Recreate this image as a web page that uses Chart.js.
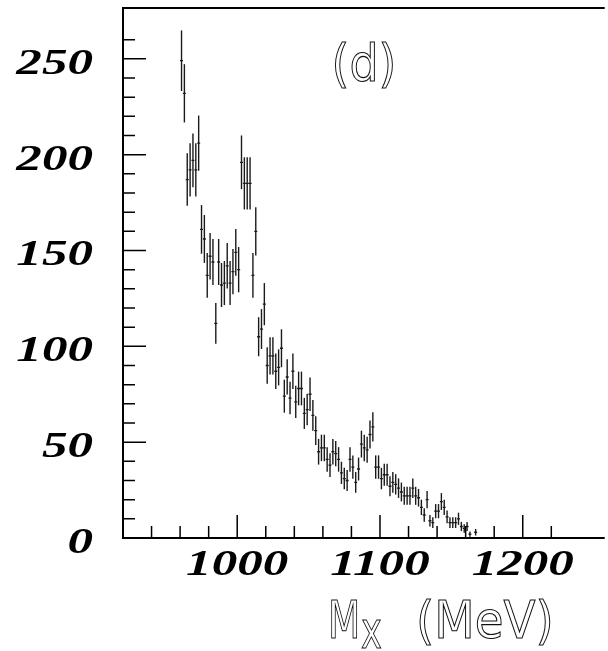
<!DOCTYPE html>
<html>
<head>
<meta charset="utf-8">
<script src="https://cdn.jsdelivr.net/npm/chart.js@4/dist/chart.umd.min.js"></script>
<style>
  html, body { margin: 0; padding: 0; background: #fff; }
  #wrap { width: 608px; height: 651px; position: relative; }
</style>
</head>
<body>
<div id="wrap"><canvas id="mxChart"></canvas></div>
<script>
// Missing-mass spectrum, 2 MeV bins
const binCenters = [
    961, 963, 965, 967, 969, 971, 973, 975, 977, 979,
    981, 983, 985, 987, 989, 991, 993, 995, 997, 999,
    1001, 1003, 1005, 1007, 1009, 1011, 1013, 1015, 1017, 1019,
    1021, 1023, 1025, 1027, 1029, 1031, 1033, 1035, 1037, 1039,
    1041, 1043, 1045, 1047, 1049, 1051, 1053, 1055, 1057, 1059,
    1061, 1063, 1065, 1067, 1069, 1071, 1073, 1075, 1077, 1079,
    1081, 1083, 1085, 1087, 1089, 1091, 1093, 1095, 1097, 1099,
    1101, 1103, 1105, 1107, 1109, 1111, 1113, 1115, 1117, 1119,
    1121, 1123, 1125, 1127, 1129, 1131, 1133, 1135, 1137, 1139,
    1141, 1143, 1145, 1147, 1149, 1151, 1153, 1155, 1157, 1159,
    1161, 1163, 1165, 1167
];
const counts = [
    249, 232, 187, 192, 197, 192, 206, 161, 156, 137,
    147, 144, 112, 144, 132, 133, 142, 133, 139, 149,
    140, 196, 185, 185, 185, 137, 160, 105, 109, 122,
    90, 95, 95, 87, 89, 99, 74, 84, 73, 87,
    71, 78, 78, 65, 67, 75, 64, 56, 45, 47,
    47, 41, 38, 45, 44, 41, 34, 31, 30, 41,
    37, 29, 36, 49, 47, 46, 54, 58, 37, 37,
    31, 33, 33, 27, 29, 28, 26, 24, 22, 22,
    22, 26, 22, 21, 16, 12, 20, 9, 8, 14,
    14, 19, 16, 11, 8, 8, 8, 10, 6, 5,
    6, 2, null, 3
];
const errors = [
    15.8, 15.2, 13.7, 13.9, 14.0, 13.9, 14.4, 12.7, 12.5, 11.7,
    12.1, 12.0, 10.6, 12.0, 11.5, 11.5, 11.9, 11.5, 11.8, 12.2,
    11.8, 14.0, 13.6, 13.6, 13.6, 11.7, 12.6, 10.2, 10.4, 11.0,
    9.5, 9.7, 9.7, 9.3, 9.4, 9.9, 8.6, 9.2, 8.5, 9.3,
    8.4, 8.8, 8.8, 8.1, 8.2, 8.7, 8.0, 7.5, 6.7, 6.9,
    6.9, 6.4, 6.2, 6.7, 6.6, 6.4, 5.8, 5.6, 5.5, 6.4,
    6.1, 5.4, 6.0, 7.0, 6.9, 6.8, 7.3, 7.6, 6.1, 6.1,
    5.6, 5.7, 5.7, 5.2, 5.4, 5.3, 5.1, 4.9, 4.7, 4.7,
    4.7, 5.1, 4.7, 4.6, 4.0, 3.5, 4.5, 3.0, 2.8, 3.7,
    3.7, 4.4, 4.0, 3.3, 2.8, 2.8, 2.8, 3.2, 2.4, 2.2,
    2.4, 1.4, null, 1.7
];

const xTickLabels = [1000, 1100, 1200];
const yTickLabels = [0, 50, 100, 150, 200, 250];
const xTitle = ['M', 'x', '(MeV)'];
const panelLabel = '(d)';

const points = [];
binCenters.forEach((m, i) => {
    if (counts[i] !== null) points.push({ x: m, y: counts[i], err: errors[i] });
});

// horizontally stretched text, like the ROOT output
function drawText(ctx, text, x, y, font, sx, align, outline) {
    ctx.save();
    ctx.font = font;
    ctx.textAlign = align;
    ctx.textBaseline = 'alphabetic';
    ctx.translate(x, y);
    ctx.scale(sx, 1);
    if (outline) {
        ctx.lineWidth = 1.1;
        ctx.strokeStyle = '#111';
        ctx.strokeText(text, 0, 0);
    } else {
        ctx.fillStyle = '#000';
        ctx.fillText(text, 0, 0);
    }
    ctx.restore();
}

const rootFrame = {
    id: 'rootFrame',
    afterDatasetsDraw(chart) {
        const ctx = chart.ctx;
        const xs = chart.scales.x, ys = chart.scales.y;
        const a = chart.chartArea;

        // error bars
        ctx.save();
        ctx.strokeStyle = '#1a1a1a';
        ctx.lineWidth = 1.4;
        points.forEach(p => {
            const px = xs.getPixelForValue(p.x);
            ctx.beginPath();
            ctx.moveTo(px, ys.getPixelForValue(p.y + p.err));
            ctx.lineTo(px, ys.getPixelForValue(p.y - p.err));
            ctx.stroke();
        });
        ctx.restore();

        // frame (right side is off the picture)
        ctx.save();
        ctx.strokeStyle = '#000';
        ctx.lineWidth = 2;
        ctx.beginPath();
        ctx.moveTo(a.right + 2, a.top);
        ctx.lineTo(a.left, a.top);
        ctx.lineTo(a.left, a.bottom);
        ctx.lineTo(a.right + 2, a.bottom);
        ctx.stroke();

        // inward ticks
        ctx.lineWidth = 1.5;
        ctx.beginPath();
        xs.ticks.forEach(t => {
            const v = t.value;
            if (v % 20 !== 0 || v <= xs.min) return;
            const px = xs.getPixelForValue(v);
            const len = xTickLabels.includes(v) ? 23 : 12;
            ctx.moveTo(px, a.bottom);
            ctx.lineTo(px, a.bottom - len);
        });
        ys.ticks.forEach(t => {
            const v = t.value;
            if (v % 10 !== 0 || v <= ys.min) return;
            const py = ys.getPixelForValue(v);
            const len = yTickLabels.includes(v) ? 23 : 12;
            ctx.moveTo(a.left, py);
            ctx.lineTo(a.left + len, py);
        });
        ctx.stroke();
        ctx.restore();

        // tick labels
        const tickFont = 'italic bold 36px "Liberation Serif", "Times New Roman", serif';
        xTickLabels.forEach(v => {
            drawText(ctx, String(v), xs.getPixelForValue(v), a.bottom + 37, tickFont, 1.42, 'center');
        });
        yTickLabels.forEach(v => {
            drawText(ctx, String(v), a.left - 30, ys.getPixelForValue(v) + 15, tickFont, 1.42, 'right');
        });

        // axis title and panel label
        const sans = '52px "DejaVu Sans", sans-serif';
        drawText(ctx, xTitle[0], 328, 638, sans, 0.72, 'left', true);
        drawText(ctx, xTitle[1], 361, 648, sans, 0.68, 'left', true);
        drawText(ctx, xTitle[2], 416, 638, sans, 0.9, 'left', true);
        drawText(ctx, panelLabel, 364, 81, '52px "DejaVu Sans", sans-serif', 0.88, 'center', true);
    }
};

new Chart(document.getElementById('mxChart'), {
    type: 'scatter',
    data: {
        datasets: [{
            data: points,
            showLine: false,
            pointStyle: 'line',
            pointRadius: 1.5,
            pointBorderWidth: 1.3,
            borderColor: '#1a1a1a',
            backgroundColor: '#1a1a1a'
        }]
    },
    options: {
        responsive: true,
        maintainAspectRatio: false,
        animation: false,
        layout: { padding: { top: 8, left: 0, right: 0, bottom: 0 } },
        plugins: { legend: { display: false }, tooltip: { enabled: false } },
        scales: {
            x: {
                type: 'linear',
                min: 920,
                max: 1256,
                ticks: { stepSize: 20, display: false },
                grid: { display: false },
                border: { display: false },
                afterFit: s => { s.height = 113; }
            },
            y: {
                min: 0,
                max: 276.5,
                ticks: { stepSize: 10, display: false },
                grid: { display: false },
                border: { display: false },
                afterFit: s => { s.width = 123; }
            }
        }
    },
    plugins: [rootFrame]
});
</script>
</body>
</html>
